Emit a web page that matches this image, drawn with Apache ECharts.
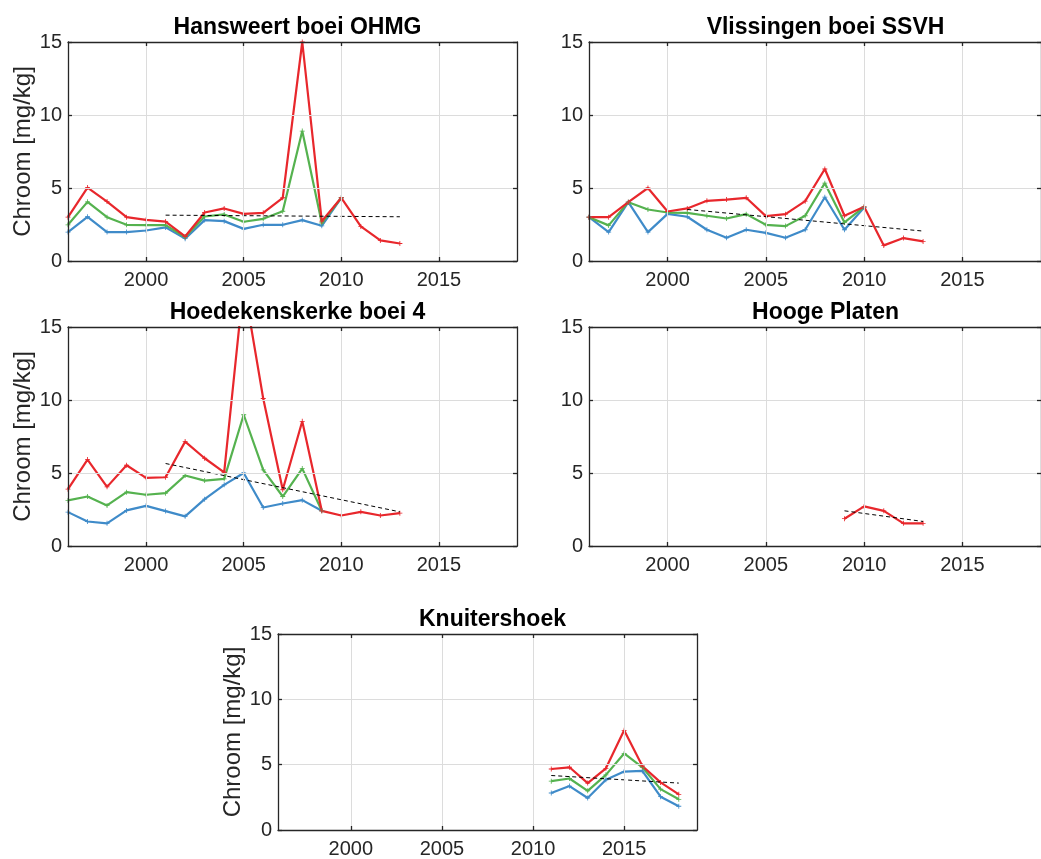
<!DOCTYPE html>
<html><head><meta charset="utf-8">
<script src="https://cdn.jsdelivr.net/npm/echarts@6/dist/echarts.min.js"></script>
<style>html,body{margin:0;padding:0;background:#fff}#c{width:1041px;height:859px}</style>
</head><body><div id="c"></div>
<script>
// ---- data ----
const titles = ['Hansweert boei OHMG', 'Vlissingen boei SSVH', 'Hoedekenskerke boei 4', 'Hooge Platen', 'Knuitershoek'];
const yLabel = 'Chroom [mg/kg]';
const xTicks = [2000, 2005, 2010, 2015];
const yTicks = [0, 5, 10, 15];

const yearsA = [1996,1997,1998,1999,2000,2001,2002,2003,2004,2005,2006,2007,2008,2009,2010,2011,2012,2013];

const hansRed   = [3.0,5.03,4.07,3.0,2.82,2.7,1.68,3.32,3.6,3.23,3.3,4.33,15.0,2.73,4.33,2.37,1.41,1.2];
const hansGreen = [2.48,4.05,3.0,2.48,2.46,2.46,1.64,3.05,3.19,2.69,2.89,3.41,8.9,2.6,4.33];
const hansBlue  = [1.98,3.03,1.98,1.98,2.09,2.3,1.53,2.8,2.73,2.2,2.48,2.48,2.8,2.41,4.33];
const hansTrendYears = [2001, 2013];
const hansTrend = [3.14, 3.03];

const vlisRed   = [3.0,3.0,4.03,5.0,3.39,3.6,4.12,4.21,4.33,3.07,3.21,4.1,6.3,3.1,3.71,1.07,1.57,1.34];
const vlisGreen = [3.0,2.44,4.03,3.53,3.32,3.3,3.1,2.91,3.21,2.48,2.39,3.1,5.33,2.64,3.71];
const vlisBlue  = [3.0,1.98,4.03,1.98,3.23,3.03,2.14,1.59,2.14,1.93,1.59,2.14,4.37,2.14,3.66];
const vlisTrendYears = [2001, 2013];
const vlisTrend = [3.53, 2.05];

const hoedRed   = [3.89,5.92,4.05,5.53,4.67,4.71,7.15,6.01,5.05,18.0,10.1,3.85,8.54,2.41,2.09,2.34,2.09,2.25];
const hoedGreen = [3.12,3.39,2.78,3.69,3.51,3.62,4.83,4.48,4.6,8.99,5.21,3.39,5.3,2.41];
const hoedBlue  = [2.32,1.68,1.55,2.44,2.75,2.39,2.03,3.21,4.19,5.0,2.64,2.91,3.14,2.41];
const hoedTrendYears = [2001, 2013];
const hoedTrend = [5.65, 2.34];

const hoogYears = [2009,2010,2011,2012,2013];
const hoogRed   = [1.87,2.71,2.41,1.55,1.55];
const hoogTrendYears = [2009, 2013];
const hoogTrend = [2.41, 1.68];

const knuiYears = [2011,2012,2013,2014,2015,2016,2017,2018];
const knuiRed   = [4.67,4.8,3.59,4.72,7.63,4.9,3.64,2.73];
const knuiGreen = [3.74,3.94,3.0,4.22,5.86,4.8,3.13,2.35];
const knuiBlue  = [2.83,3.36,2.45,3.84,4.47,4.52,2.55,1.82];
const knuiTrendYears = [2011, 2018];
const knuiTrend = [4.17, 3.59];

// ---- styling / layout ----
const FONT = "'Liberation Sans', Arial, Helvetica, sans-serif";
const AX = '#262626';
const C = { blue: '#3f8bc9', green: '#55b24f', red: '#e8272c' };
const PLUS = 'path://M-0.5,-3H0.5V-0.5H3V0.5H0.5V3H-0.5V0.5H-3V-0.5H-0.5Z';

const grids = [
  { left: 68,  top: 42,  width: 449, height: 219 },
  { left: 589, top: 42,  width: 463, height: 219 },
  { left: 68,  top: 327, width: 449, height: 219 },
  { left: 589, top: 327, width: 463, height: 219 },
  { left: 278, top: 634, width: 419, height: 198 }
];
const hasYLabel = [true, false, true, false, true];
const yNameGap = [32, 0, 32, 0, 24];

const panels = [
  { lines: [[yearsA, hansBlue, 'blue'], [yearsA, hansGreen, 'green'], [yearsA, hansRed, 'red']], trend: [hansTrendYears, hansTrend] },
  { lines: [[yearsA, vlisBlue, 'blue'], [yearsA, vlisGreen, 'green'], [yearsA, vlisRed, 'red']], trend: [vlisTrendYears, vlisTrend] },
  { lines: [[yearsA, hoedBlue, 'blue'], [yearsA, hoedGreen, 'green'], [yearsA, hoedRed, 'red']], trend: [hoedTrendYears, hoedTrend] },
  { lines: [[hoogYears, hoogRed, 'red']], trend: [hoogTrendYears, hoogTrend] },
  { lines: [[knuiYears, knuiBlue, 'blue'], [knuiYears, knuiGreen, 'green'], [knuiYears, knuiRed, 'red']], trend: [knuiTrendYears, knuiTrend] }
];

const pairs = (xs, ys) => ys.map((v, i) => [xs[i], v]);

const option = {
  animation: false,
  backgroundColor: '#fff',
  title: [], grid: [], xAxis: [], yAxis: [], series: []
};

grids.forEach((g, i) => {
  option.grid.push(Object.assign({ show: false, containLabel: false }, g));
  option.title.push({
    text: titles[i],
    left: g.left + g.width / 2, top: g.top - 31,
    textAlign: 'center',
    textStyle: { fontFamily: FONT, fontSize: 23, fontWeight: 'bold', color: '#000' }
  });
  const xBase = {
    gridIndex: i, type: 'value', min: 1996, max: 2019,
    axisLine: { show: true, onZero: false, lineStyle: { color: AX, width: 1.3 } },
    axisTick: { show: true, inside: true, length: 4, customValues: xTicks, lineStyle: { color: AX, width: 1.3 } },
    splitLine: { show: false },
    z: 10
  };
  option.xAxis.push(Object.assign({}, xBase, {
    position: 'bottom',
    axisLabel: { show: true, customValues: xTicks, margin: 9, fontFamily: FONT, fontSize: 20, color: AX, formatter: v => String(v) },
    splitLine: { show: true, lineStyle: { color: '#dcdcdc', width: 1 } }
  }));
  option.xAxis.push(Object.assign({}, xBase, { position: 'top', axisLabel: { show: false } }));
  const yBase = {
    gridIndex: i, type: 'value', min: 0, max: 15, interval: 5,
    axisLine: { show: true, onZero: false, lineStyle: { color: AX, width: 1.3 } },
    axisTick: { show: true, inside: true, length: 4, lineStyle: { color: AX, width: 1.3 } },
    splitLine: { show: false },
    z: 10
  };
  option.yAxis.push(Object.assign({}, yBase, {
    position: 'left',
    name: hasYLabel[i] ? yLabel : '',
    nameLocation: 'middle', nameGap: yNameGap[i],
    nameTextStyle: { fontFamily: FONT, fontSize: 24, color: AX },
    axisLabel: { show: true, margin: 6, fontFamily: FONT, fontSize: 20, color: AX },
    splitLine: { show: true, lineStyle: { color: '#dcdcdc', width: 1 } }
  }));
  option.yAxis.push(Object.assign({}, yBase, { position: 'right', axisLabel: { show: false } }));

  const p = panels[i];
  p.lines.forEach(([xs, ys, col]) => {
    option.series.push({
      type: 'line', xAxisIndex: 2 * i, yAxisIndex: 2 * i,
      data: pairs(xs, ys),
      symbol: PLUS, symbolSize: 5, showSymbol: true,
      itemStyle: { color: C[col] },
      lineStyle: { color: C[col], width: 2.2 },
      clip: true, silent: true
    });
  });
  option.series.push({
    type: 'line', xAxisIndex: 2 * i, yAxisIndex: 2 * i,
    data: pairs(p.trend[0], p.trend[1]),
    symbol: 'none',
    lineStyle: { color: '#000', width: 1, type: [4, 3] },
    clip: true, silent: true, z: 5
  });
});

const chart = echarts.init(document.getElementById('c'), null, { renderer: 'canvas' });
chart.setOption(option);
</script>
</body></html>
